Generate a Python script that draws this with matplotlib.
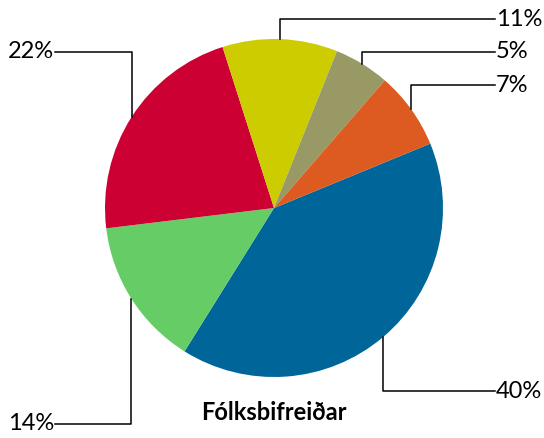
import numpy as np
import matplotlib
matplotlib.use("Agg")
import matplotlib.pyplot as plt

plt.rcParams['font.family'] = ['Lato', 'DejaVu Sans']

# data
labels = ['40%', '14%', '22%', '11%', '5%', '7%']
values = [40.1, 14.2, 22.0, 11.0, 5.3, 7.4]
colors = ['#006699', '#66CC66', '#CC0033', '#CCCC00', '#999966', '#DD5A20']
title = 'Fólksbifreiðar'

# label placement (pixel coords, y from top) : side, label y
label_side = ['right', 'left', 'left', 'right', 'right', 'right']
label_y = [391, 424, 52, 19, 52, 85]

W, H = 544, 438
fig = plt.figure(figsize=(W / 100, H / 100), dpi=100)
ax = fig.add_axes([0, 0, 1, 1])

cx, cy, r = 274, H - 208, 169
wedges, _ = ax.pie(values, colors=colors, startangle=22.4, counterclock=False,
                   center=(cx, cy), radius=r, wedgeprops=dict(linewidth=0),
                   frame=True)
ax.set_xlim(0, W)
ax.set_ylim(0, H)
ax.set_aspect('equal')
ax.axis('off')

for w, lab, side, ly in zip(wedges, labels, label_side, label_y):
    mid = np.deg2rad((w.theta1 + w.theta2) / 2)
    x0 = cx + r * np.cos(mid)
    y0 = cy + r * np.sin(mid)
    y1 = H - ly
    if side == 'right':
        x1 = 495
        ax.text(x1 + 1, y1, lab, ha='left', va='center', fontsize=17)
    else:
        x1 = 55
        ax.text(x1 - 1, y1, lab, ha='right', va='center', fontsize=17)
    ax.plot([x0, x0, x1], [y0, y1, y1], color='black', lw=1.1)

ax.text(274, H - 413, title, ha='center', va='center', fontsize=17,
        fontweight='bold')

fig.savefig('out.png', dpi=100)
